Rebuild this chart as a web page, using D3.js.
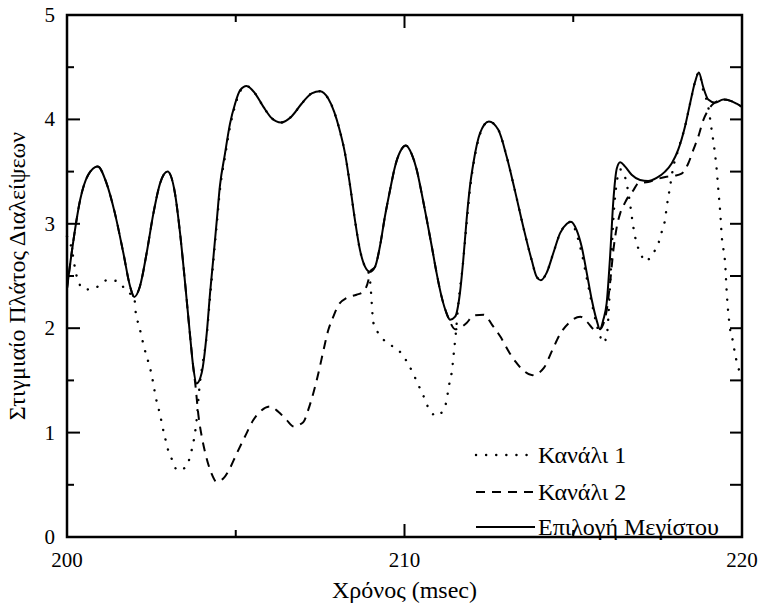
<!DOCTYPE html>
<html>
<head>
<meta charset="utf-8">
<script src="https://cdn.jsdelivr.net/npm/d3@7"></script>
</head>
<body style="margin:0; background:#fff">
<svg id="chart" width="760" height="610"></svg>
<script>
// Tick values
const xTicksMajor = [200, 210, 220];
const xTicksMinor = [205, 215];
const yTicksMajor = [0, 1, 2, 3, 4, 5];
const yTicksMinor = [0.5, 1.5, 2.5, 3.5, 4.5];

// Channel 1 (dotted)
const ch1Time = [200.0, 200.04, 200.14, 200.24, 200.33, 200.53, 200.86, 201.19, 201.51, 201.77, 201.99,
  202.04, 202.13, 202.21, 202.29, 202.38, 202.46, 202.54, 202.60, 202.67, 202.76, 202.82, 202.90, 202.98,
  203.10, 203.27, 203.53, 203.66, 203.74, 203.79, 203.84, 203.93, 204.0, 204.14, 204.24, 204.33, 204.44,
  204.53, 204.68, 204.83, 204.98, 205.13, 205.32, 205.57, 205.82, 206.07, 206.34, 206.66, 206.95, 207.25,
  207.50, 207.74, 207.92, 208.06, 208.24, 208.39, 208.53, 208.68, 208.83, 208.92, 208.98, 209.08, 209.23,
  209.48, 209.82, 210.07, 210.25, 210.39, 210.55, 210.69, 210.95, 211.20, 211.33, 211.40, 211.47, 211.52,
  211.60, 211.72, 211.84, 211.94, 212.04, 212.24, 212.50, 212.78, 213.03, 213.27, 213.52, 213.77, 213.92,
  214.04, 214.21, 214.41, 214.61, 214.81, 214.93, 215.10, 215.25, 215.40, 215.55, 215.69, 215.80, 215.90,
  216.0, 216.09, 216.19, 216.29, 216.40, 216.58, 216.68, 216.78, 216.88, 216.98, 217.13, 217.37, 217.52,
  217.62, 217.72, 217.77, 217.87, 217.95, 218.11, 218.31, 218.46, 218.61, 218.72, 218.85, 219.00, 219.10,
  219.20, 219.25, 219.30, 219.35, 219.40, 219.50, 219.55, 219.64, 219.74, 219.79, 219.86, 219.94, 220.0];
const ch1Values = [2.88, 2.86, 2.76, 2.57, 2.45, 2.37, 2.39, 2.46, 2.45, 2.35, 2.30,
  2.14, 2.03, 1.92, 1.81, 1.71, 1.62, 1.50, 1.39, 1.28, 1.17, 1.07, 0.96, 0.85,
  0.75, 0.64, 0.67, 0.79, 0.90, 0.99, 1.12, 1.45, 1.62, 1.93, 2.30, 2.62, 3.00,
  3.32, 3.64, 3.93, 4.13, 4.27, 4.32, 4.25, 4.12, 4.01, 3.97, 4.03, 4.15, 4.25,
  4.27, 4.20, 4.07, 3.92, 3.67, 3.36, 3.04, 2.75, 2.59, 2.55, 2.45, 2.05, 1.95,
  1.86, 1.79, 1.68, 1.57, 1.47, 1.36, 1.25, 1.16, 1.25, 1.47, 1.58, 1.79, 1.95,
  2.25, 2.58, 3.00, 3.33, 3.56, 3.86, 3.98, 3.90, 3.64, 3.32, 2.97, 2.65, 2.49,
  2.46, 2.53, 2.72, 2.91, 3.00, 3.02, 2.90, 2.72, 2.48, 2.24, 2.04, 1.92, 1.86,
  1.95, 2.40, 3.05, 3.40, 3.52, 3.39, 3.20, 2.97, 2.81, 2.73, 2.64, 2.72, 2.81,
  2.92, 3.04, 3.16, 3.36, 3.52, 3.71, 3.93, 4.15, 4.36, 4.45, 4.28, 4.12, 3.90,
  3.67, 3.52, 3.32, 3.13, 2.88, 2.62, 2.33, 2.01, 1.86, 1.76, 1.66, 1.57, 1.52];

// Channel 2 (dashed)
const ch2Time = [200.0, 200.19, 200.39, 200.63, 200.91, 201.17, 201.42, 201.67, 201.87, 201.99, 202.16,
  202.36, 202.56, 202.76, 202.98, 203.20, 203.35, 203.50, 203.64, 203.74, 203.80, 203.90, 204.0, 204.10,
  204.28, 204.43, 204.63, 204.78, 205.03, 205.27, 205.52, 205.72, 206.01, 206.26, 206.51, 206.71, 207.00,
  207.15, 207.30, 207.45, 207.60, 207.74, 207.89, 208.04, 208.29, 208.58, 208.78, 208.93, 208.98, 209.13,
  209.27, 209.42, 209.57, 209.72, 209.87, 210.04, 210.21, 210.36, 210.51, 210.66, 210.81, 210.95, 211.10,
  211.25, 211.35, 211.50, 211.84, 212.04, 212.35, 212.60, 212.84, 213.10, 213.29, 213.54, 213.79, 214.13,
  214.38, 214.62, 214.87, 215.21, 215.41, 215.66, 215.79, 215.99, 216.09, 216.19, 216.29, 216.39, 216.53,
  216.63, 216.78, 216.93, 217.22, 217.50, 217.76, 218.00, 218.21, 218.41, 218.56, 218.71, 218.85, 219.00,
  219.15, 219.45, 219.64, 219.84, 220.0];
const ch2Values = [2.38, 2.84, 3.23, 3.47, 3.55, 3.39, 3.10, 2.72, 2.40, 2.30, 2.40,
  2.72, 3.10, 3.39, 3.50, 3.29, 2.91, 2.43, 1.95, 1.63, 1.47, 1.15, 0.95, 0.80,
  0.61, 0.53, 0.56, 0.63, 0.80, 0.96, 1.12, 1.20, 1.25, 1.20, 1.12, 1.06, 1.10,
  1.22, 1.38, 1.57, 1.79, 1.98, 2.11, 2.22, 2.29, 2.32, 2.35, 2.46, 2.54, 2.59,
  2.78, 3.07, 3.32, 3.55, 3.69, 3.75, 3.67, 3.52, 3.29, 3.04, 2.78, 2.53, 2.30,
  2.14, 2.06, 1.99, 2.05, 2.12, 2.13, 2.03, 1.92, 1.77, 1.68, 1.59, 1.55, 1.62,
  1.79, 1.95, 2.05, 2.11, 2.06, 1.98, 1.99, 2.17, 2.43, 2.75, 2.97, 3.10, 3.20,
  3.26, 3.32, 3.39, 3.40, 3.43, 3.45, 3.46, 3.48, 3.58, 3.71, 3.84, 3.99, 4.09,
  4.15, 4.19, 4.18, 4.15, 4.12];

// Selection of maximum (solid)
const maxTime = [200.0, 200.19, 200.39, 200.63, 200.91, 201.17, 201.42, 201.67, 201.87, 201.99, 202.16,
  202.36, 202.56, 202.76, 202.98, 203.20, 203.35, 203.50, 203.64, 203.74, 203.84, 203.99, 204.14, 204.24,
  204.33, 204.44, 204.53, 204.68, 204.83, 204.98, 205.13, 205.32, 205.57, 205.82, 206.07, 206.34, 206.66,
  206.95, 207.25, 207.50, 207.74, 207.92, 208.06, 208.24, 208.39, 208.53, 208.68, 208.83, 208.98, 209.13,
  209.27, 209.42, 209.57, 209.72, 209.87, 210.04, 210.21, 210.36, 210.51, 210.66, 210.81, 210.95, 211.10,
  211.25, 211.35, 211.50, 211.64, 211.74, 211.84, 211.94, 212.04, 212.24, 212.50, 212.78, 213.03, 213.27,
  213.52, 213.77, 213.92, 214.04, 214.21, 214.41, 214.61, 214.81, 214.93, 215.10, 215.25, 215.40, 215.55,
  215.69, 215.79, 215.89, 215.99, 216.09, 216.19, 216.29, 216.39, 216.53, 216.73, 216.98, 217.22, 217.47,
  217.72, 217.92, 218.11, 218.31, 218.46, 218.61, 218.72, 218.85, 219.00, 219.20, 219.45, 219.64, 219.84,
  220.0];
const maxValues = [2.38, 2.84, 3.23, 3.47, 3.55, 3.39, 3.10, 2.72, 2.40, 2.30, 2.40,
  2.72, 3.10, 3.39, 3.50, 3.29, 2.91, 2.43, 1.95, 1.63, 1.47, 1.57, 1.95, 2.34,
  2.65, 3.04, 3.36, 3.67, 3.96, 4.15, 4.28, 4.32, 4.25, 4.12, 4.01, 3.97, 4.03,
  4.15, 4.25, 4.27, 4.20, 4.07, 3.92, 3.67, 3.36, 3.04, 2.75, 2.59, 2.54, 2.59,
  2.78, 3.07, 3.32, 3.55, 3.69, 3.75, 3.67, 3.52, 3.29, 3.04, 2.78, 2.53, 2.30,
  2.14, 2.08, 2.11, 2.33, 2.65, 3.04, 3.36, 3.58, 3.87, 3.98, 3.90, 3.64, 3.32,
  2.97, 2.65, 2.49, 2.46, 2.53, 2.72, 2.91, 3.00, 3.02, 2.94, 2.78, 2.53, 2.27,
  2.08, 1.99, 2.08, 2.24, 2.68, 3.23, 3.53, 3.59, 3.55, 3.47, 3.42, 3.41, 3.44,
  3.50, 3.58, 3.71, 3.93, 4.15, 4.36, 4.45, 4.31, 4.19, 4.16, 4.19, 4.18, 4.15,
  4.12];

const xTitle = "Χρόνος (msec)";
const yTitle = "Στιγμιαίο Πλάτος Διαλείψεων";
const legendLabels = ["Κανάλι 1", "Κανάλι 2", "Επιλογή Μεγίστου"];

const svg = d3.select("#chart");
const x = d3.scaleLinear().domain([200, 220]).range([67, 742]);
const y = d3.scaleLinear().domain([0, 5]).range([537, 15]);
const [x0, x1] = x.range();
const [y0, y1] = y.range();

// Frame
svg.append("rect").attr("x", x0).attr("y", y1)
  .attr("width", x1 - x0).attr("height", y0 - y1)
  .attr("fill", "none").attr("stroke", "#000").attr("stroke-width", 2.5);

// Inward tick marks: [value, length] pairs on each side
const tickSpecs = [];
xTicksMajor.forEach(v => tickSpecs.push({ x1: x(v), x2: x(v), y1: y0, y2: y0 - 13 }, { x1: x(v), x2: x(v), y1: y1, y2: y1 + 13 }));
xTicksMinor.forEach(v => tickSpecs.push({ x1: x(v), x2: x(v), y1: y0, y2: y0 - 7 }, { x1: x(v), x2: x(v), y1: y1, y2: y1 + 7 }));
yTicksMajor.forEach(v => tickSpecs.push({ x1: x0, x2: x0 + 13, y1: y(v), y2: y(v) }, { x1: x1, x2: x1 - 12, y1: y(v), y2: y(v) }));
yTicksMinor.forEach(v => tickSpecs.push({ x1: x0, x2: x0 + 7, y1: y(v), y2: y(v) }, { x1: x1, x2: x1 - 12, y1: y(v), y2: y(v) }));
svg.selectAll("line.tickmark").data(tickSpecs).join("line").attr("class", "tickmark")
  .attr("x1", d => d.x1).attr("x2", d => d.x2).attr("y1", d => d.y1).attr("y2", d => d.y2)
  .attr("stroke", "#000").attr("stroke-width", 2);

// Series
const zip = (ts, vs) => ts.map((t, i) => [t, vs[i]]);
const lineGen = d3.line().x(d => x(d[0])).y(d => y(d[1])).curve(d3.curveMonotoneX);
const styles = [
  { dash: "0.1,10", width: 2.4, cap: "round" },
  { dash: "9,7", width: 2, cap: "butt" },
  { dash: null, width: 2, cap: "butt" }
];
const seriesData = [zip(ch1Time, ch1Values), zip(ch2Time, ch2Values), zip(maxTime, maxValues)];
seriesData.forEach((data, i) => {
  svg.append("path").datum(data)
    .attr("d", lineGen)
    .attr("fill", "none")
    .attr("stroke", "#000")
    .attr("stroke-width", styles[i].width)
    .attr("stroke-linecap", styles[i].cap)
    .attr("stroke-linejoin", "round")
    .attr("stroke-dasharray", styles[i].dash);
});

// Tick labels
svg.selectAll("text.xlab").data(xTicksMajor).join("text").attr("class", "xlab")
  .attr("x", d => x(d)).attr("y", 567)
  .attr("text-anchor", "middle").style("font-family", "Liberation Serif").style("font-size", "21px")
  .text(d => d);
svg.selectAll("text.ylab").data(yTicksMajor).join("text").attr("class", "ylab")
  .attr("x", 55).attr("y", d => y(d) + 7)
  .attr("text-anchor", "end").style("font-family", "Liberation Serif").style("font-size", "21px")
  .text(d => d);

// Axis titles
svg.append("text").attr("x", (x0 + x1) / 2).attr("y", 598)
  .attr("text-anchor", "middle").style("font-family", "Liberation Serif").style("font-size", "24px").text(xTitle);
svg.append("text").attr("transform", `translate(25,${(y0 + y1) / 2}) rotate(-90)`)
  .attr("text-anchor", "middle").style("font-family", "Liberation Serif").style("font-size", "24px").text(yTitle);

// Legend
const legendY = [455, 492, 527];
legendLabels.forEach((label, i) => {
  svg.append("line")
    .attr("x1", 476).attr("x2", 535)
    .attr("y1", legendY[i]).attr("y2", legendY[i])
    .attr("stroke", "#000").attr("stroke-width", styles[i].width)
    .attr("stroke-linecap", styles[i].cap)
    .attr("stroke-dasharray", styles[i].dash);
  svg.append("text").attr("x", 538).attr("y", legendY[i] + 8)
    .style("font-family", "Liberation Serif").style("font-size", "24px").text(label);
});
</script>
</body>
</html>
